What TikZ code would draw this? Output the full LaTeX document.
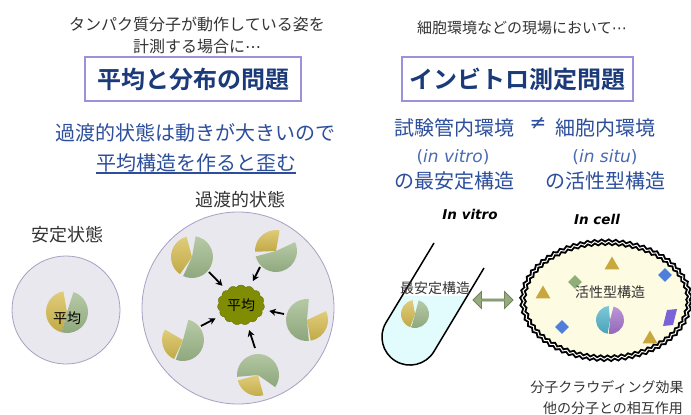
\documentclass[tikz,border=0pt]{standalone}
\usepackage{fontspec}
\setmainfont{Noto Sans CJK JP}[BoldFont={Noto Sans CJK JP Bold}]
\newfontfamily\lat{DejaVu Sans}
\usetikzlibrary{shapes.symbols,shapes.arrows,shapes.geometric,decorations.pathmorphing,arrows.meta}

\definecolor{txtgray}{HTML}{333333}
\definecolor{titleblue}{HTML}{1B3A7A}
\definecolor{boxlav}{HTML}{9D92D9}
\definecolor{midblue}{HTML}{2C4E9B}
\definecolor{lightblue}{HTML}{4A69B3}
\definecolor{circfill}{HTML}{E9E8EF}
\definecolor{circedge}{HTML}{A99FC3}
\definecolor{pieyel}{HTML}{D6BC4E}
\definecolor{piegrn}{HTML}{9DB888}
\definecolor{olive}{HTML}{808C02}
\definecolor{olivedk}{HTML}{66700A}
\definecolor{tubefill}{HTML}{E2FBFD}
\definecolor{arrgreen}{HTML}{97AB7F}
\definecolor{arrgreendk}{HTML}{6F8559}
\definecolor{cellfill}{HTML}{FDFBE2}
\definecolor{gold}{HTML}{C8A83D}
\definecolor{dblue}{HTML}{4E80DB}
\definecolor{dgreen}{HTML}{8FAE79}
\definecolor{dpurple}{HTML}{7B62D8}
\definecolor{piecyan}{HTML}{52B5CC}
\definecolor{pieviolet}{HTML}{A373CC}

% midline ellipsis
\newcommand\mdots{{\lat ⋯}}

% two-piece pie with a notch: x, y, radius, start/end of piece one, colour one,
% start/end of piece two, colour two (angles counter-clockwise)
\newcommand\notchpie[9]{%
  \begin{scope}[shift={(#1,#2)},yscale=-1]
    \shade[top color=#6!75!white, bottom color=#6!90!black]
      (0,0) -- (#4:#3) arc[start angle=#4,end angle=#5,radius=#3] -- cycle;
    \shade[top color=#9!75!white, bottom color=#9!90!black]
      (0,0) -- (#7:#3) arc[start angle=#7,end angle=#8,radius=#3] -- cycle;
  \end{scope}}

\begin{document}
\begin{tikzpicture}[x=1pt,y=-1pt,
  graytxt/.style={text=txtgray, inner sep=0pt, font=\fontsize{16}{18}\selectfont},
  smalltxt/.style={text=txtgray, inner sep=0pt, font=\fontsize{14}{16}\selectfont},
  headtxt/.style={text=txtgray, inner sep=0pt, font=\fontsize{18}{20}\selectfont},
  bluetxt/.style={text=midblue, inner sep=0pt, font=\fontsize{20}{22}\selectfont},
  latblue/.style={text=lightblue, inner sep=0pt, font=\lat\fontsize{17}{19}\selectfont},
  labeltxt/.style={text=black, inner sep=0pt, font=\lat\bfseries\itshape\fontsize{13.5}{15}\selectfont},
  titlebox/.style={draw=boxlav, line width=1.5pt, fill=white, text=titleblue,
    minimum height=44pt, inner sep=0pt, font=\fontsize{24}{26}\selectfont\bfseries},
  pool/.style={circle, draw=circedge, fill=circfill, line width=0.8pt, inner sep=0pt},
  pointer/.style={line width=1.8pt, -{Stealth[length=6.5pt,width=7pt]}, shorten >=6pt},
  tri/.style={regular polygon, regular polygon sides=3, fill=gold, minimum size=17pt, inner sep=0pt},
  dia/.style={diamond, minimum size=14pt, inner sep=0pt}]

\useasboundingbox (0,0) rectangle (691,415);

% ---------- left column ----------
\node[graytxt] (l1) at (197,24) {タンパク質分子が動作している姿を};
\node[graytxt] (l2) at (197,46) {計測する場合に\mdots};
\node[titlebox, minimum width=216pt] (t1) at (193,79) {平均と分布の問題};
\node[bluetxt] (b1) at (195,133) {過渡的状態は動きが大きいので};
\node[bluetxt] (b2) at (196,163) {平均構造を作ると歪む};
\draw[midblue, line width=1.2pt] ([yshift=-2.5pt]b2.base west) -- ([yshift=-2.5pt]b2.base east);

\node[headtxt] (s1) at (67,235) {安定状態};
\node[headtxt] (s2) at (240,200) {過渡的状態};

\node[pool, minimum size=108pt] (c1) at (66,310) {};
\node[pool, minimum size=192pt] (c2) at (238,308) {};

% stable state: one averaged molecule
\notchpie{67}{312}{21}{100}{255}{pieyel}{-105}{72}{piegrn}
\node[smalltxt, text=black] (m1) at (67,318) {平均};

% transient state: scattered molecules
\notchpie{192}{257}{21}{105}{235}{pieyel}{-115}{80}{piegrn}
\notchpie{276}{251}{21}{80}{182}{pieyel}{-165}{25}{piegrn}
\notchpie{307}{320}{21}{-80}{25}{pieyel}{85}{275}{piegrn}
\notchpie{183}{340}{21}{150}{245}{pieyel}{-110}{75}{piegrn}
\notchpie{258}{375}{21}{195}{285}{pieyel}{-35}{185}{piegrn}

\node[cloud, cloud puffs=15, cloud puff arc=110, aspect=1.2, fill=olive, draw=olivedk,
  minimum width=47pt, minimum height=40pt, inner sep=0pt,
  font=\fontsize{14}{16}\selectfont] (avg) at (241,305) {平均};

\coordinate (p1) at (209,272);
\coordinate (p2) at (260,267);
\coordinate (p3) at (284,314);
\coordinate (p4) at (201,326);
\coordinate (p5) at (255,348);
\foreach \p in {p1,p2,p3,p4,p5} \draw[pointer] (\p) -- (avg);

% ---------- right column ----------
\node[graytxt, font=\fontsize{15}{17}\selectfont] (r1) at (522,28) {細胞環境などの現場において\mdots};
\node[titlebox, minimum width=231pt] (t2) at (517.5,79) {インビトロ測定問題};

\node[bluetxt] (v1) at (454,128) {試験管内環境};
\node[bluetxt, font=\lat\fontsize{20}{22}\selectfont] (ne) at (538,123) {≠};
\node[bluetxt] (w1) at (605,128) {細胞内環境};
\node[latblue] (v2) at (453,157) {(\textit{in vitro})};
\node[latblue] (w2) at (605,157) {(\textit{in situ})};
\node[bluetxt] (v3) at (454,181) {の最安定構造};
\node[bluetxt] (w3) at (605,181) {の活性型構造};

\node[labeltxt] (iv) at (470,214) {In vitro};
\node[labeltxt] (ic) at (597,219) {In cell};

% test tube with solution
\fill[tubefill] (401.8,296) -- (467,296) -- (433.9,351.6)
  arc[start angle=31.3,end angle=211.3,radius=28] -- cycle;
\draw[line width=1.5pt, line join=round] (484,268) -- (433.9,351.6)
  arc[start angle=31.3,end angle=211.3,radius=28] -- (434,243);
\node[smalltxt] (ms) at (435,288) {最安定構造};
\notchpie{415}{314}{14}{100}{250}{pieyel}{-105}{75}{piegrn}

% exchange between the two environments
\node[double arrow, fill=arrgreen, draw=arrgreendk, line width=0.8pt,
  minimum height=40pt, minimum width=17pt, double arrow head extend=3pt,
  inner sep=0pt] (ex) at (493,300) {};

% crowded cell
\node[ellipse, minimum width=166pt, minimum height=116pt, fill=cellfill, draw=black,
  line width=1.9pt, double=white, double distance=1pt, decorate,
  decoration={snake, amplitude=1.1pt, segment length=7pt}] (cell) at (606,302) {};

\node[tri] (g1) at (612,265) {};
\node[tri] (g2) at (543,294) {};
\node[tri] (g3) at (650,339) {};
\node[dia, fill=dgreen] (d1) at (575,282) {};
\node[dia, fill=dblue] (d2) at (665,275) {};
\node[dia, fill=dblue] (d3) at (562,327) {};
\fill[dpurple] (667,310) -- (677,309) -- (673,325) -- (663,326) -- cycle;

\node[smalltxt] (ma) at (610,292) {活性型構造};
\notchpie{610}{320}{14}{95}{260}{piecyan}{-95}{75}{pieviolet}

\node[smalltxt] (n1) at (607,387) {分子クラウディング効果};
\node[smalltxt] (n2) at (613,408) {他の分子との相互作用};

\end{tikzpicture}
\end{document}
